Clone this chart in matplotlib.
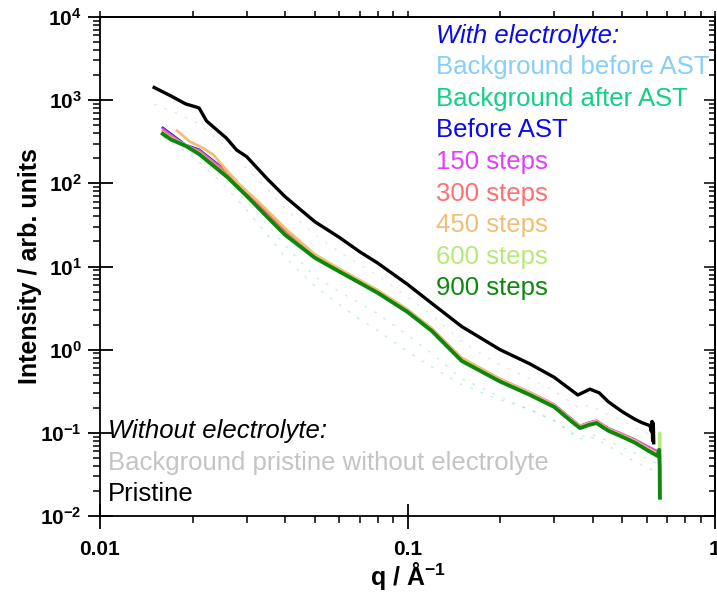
import matplotlib
matplotlib.use("Agg")
import matplotlib.pyplot as plt
from matplotlib.ticker import LogLocator, NullFormatter, FixedLocator, FixedFormatter

plt.rcParams['font.family'] = ['Liberation Sans', 'DejaVu Sans']
plt.rcParams['mathtext.fontset'] = 'custom'
plt.rcParams['mathtext.rm'] = 'Liberation Sans'
plt.rcParams['mathtext.bf'] = 'Liberation Sans:bold'
plt.rcParams['mathtext.it'] = 'Liberation Sans:italic'

# ---------------- data ----------------
q_main = [0.0160, 0.017, 0.019, 0.021, 0.023, 0.026, 0.030, 0.035, 0.040, 0.050,
          0.060, 0.070, 0.080, 0.100, 0.120, 0.150, 0.200, 0.250, 0.300, 0.340,
          0.364, 0.390, 0.412, 0.430, 0.450, 0.500, 0.550, 0.600, 0.650]

I_before = [467, 395, 290, 255, 196, 137, 76.7, 44, 26.8, 13.5,
            9.2, 6.7, 5.1, 3.0, 1.78, 0.79, 0.44, 0.305, 0.218, 0.148,
            0.121, 0.133, 0.139, 0.126, 0.113, 0.096, 0.082, 0.068, 0.058]
I_150 = [455, 385, 286, 250, 192, 134, 75, 43, 26.2, 13.3,
         9.1, 6.65, 5.05, 2.98, 1.77, 0.785, 0.445, 0.308, 0.22, 0.15,
         0.122, 0.134, 0.141, 0.127, 0.114, 0.097, 0.083, 0.070, 0.060]
I_300 = [430, 372, 280, 245, 188, 131, 74, 42.5, 26, 13.2,
         9.05, 6.6, 5.0, 2.95, 1.75, 0.78, 0.44, 0.303, 0.216, 0.147,
         0.120, 0.132, 0.138, 0.125, 0.112, 0.095, 0.081, 0.067, 0.057]
I_600 = [410, 350, 290, 232, 176, 121, 72, 40, 24.5, 12.9,
         8.8, 6.45, 4.9, 2.9, 1.71, 0.75, 0.42, 0.29, 0.208, 0.141,
         0.116, 0.127, 0.133, 0.120, 0.108, 0.091, 0.077, 0.064, 0.055]
I_900 = [393, 337, 282, 225, 171, 118, 70.6, 39.4, 24, 12.7,
         8.7, 6.35, 4.82, 2.84, 1.68, 0.733, 0.414, 0.286, 0.205, 0.139,
         0.114, 0.125, 0.131, 0.118, 0.106, 0.0895, 0.0759, 0.0625, 0.0528]

q_450 = [0.0178, 0.0196, 0.0217, 0.0234, 0.026, 0.0285, 0.0331, 0.0405, 0.050,
         0.060, 0.070, 0.080, 0.100, 0.120, 0.150, 0.200, 0.250, 0.300, 0.340,
         0.364, 0.390, 0.412, 0.430, 0.450, 0.500, 0.550, 0.600, 0.650]
I_450 = [430, 317, 264, 219, 139, 96, 57.7, 27.5, 14.0,
         9.4, 6.85, 5.2, 3.05, 1.8, 0.80, 0.445, 0.305, 0.216, 0.146,
         0.120, 0.131, 0.137, 0.124, 0.111, 0.094, 0.080, 0.066, 0.056]

# end-of-range noise
q_600_end = [0.650, 0.660, 0.662, 0.664]
I_600_end = [0.055, 0.060, 0.100, 0.050]
q_900_end = [0.650, 0.658, 0.661, 0.662]
I_900_end = [0.0528, 0.0625, 0.040, 0.0166]

q_pristine = [0.0150, 0.017, 0.019, 0.0205, 0.021, 0.0222, 0.0258, 0.0278, 0.030,
              0.035, 0.040, 0.050, 0.060, 0.070, 0.080, 0.100, 0.120, 0.150, 0.200,
              0.250, 0.300, 0.358, 0.392, 0.420, 0.450, 0.500, 0.550, 0.580,
              0.600, 0.615, 0.620, 0.624, 0.627, 0.630, 0.632]
I_pristine = [1420, 1125, 900, 830, 806, 562, 348, 252, 209,
              113, 69, 34.5, 22.4, 15.0, 11.0, 6.1, 3.6, 1.9, 1.0,
              0.675, 0.465, 0.285, 0.335, 0.303, 0.236, 0.179, 0.145, 0.132,
              0.126, 0.122, 0.105, 0.137, 0.080, 0.130, 0.076]

q_bg = [0.016, 0.019, 0.021, 0.025, 0.030, 0.035, 0.040, 0.050, 0.060, 0.070,
        0.080, 0.100, 0.120, 0.150, 0.200, 0.250, 0.300, 0.360, 0.400, 0.450,
        0.500, 0.550, 0.600, 0.650]
I_bg_before = [360, 240, 180, 100, 48, 24, 13, 5.8, 3.5, 2.3,
               1.7, 0.95, 0.62, 0.38, 0.25, 0.19, 0.14, 0.085, 0.088, 0.07,
               0.055, 0.045, 0.038, 0.034]
I_bg_after = [380, 260, 200, 120, 60, 32, 18, 7.5, 5.0, 3.6,
              2.7, 1.5, 0.9, 0.45, 0.27, 0.19, 0.14, 0.09, 0.095, 0.08,
              0.067, 0.057, 0.049, 0.043]

q_bg_pr = [0.015, 0.018, 0.021, 0.025, 0.030, 0.035, 0.040, 0.050, 0.060, 0.070,
           0.080, 0.100, 0.120, 0.150, 0.200, 0.250, 0.300, 0.360, 0.390, 0.450,
           0.500, 0.550, 0.600, 0.630]
I_bg_pr = [900, 680, 520, 300, 150, 85, 50, 24, 15, 10.5,
           7.8, 4.3, 2.6, 1.25, 0.65, 0.45, 0.32, 0.20, 0.215, 0.165,
           0.14, 0.115, 0.10, 0.09]

x_ticks = [0.01, 0.1, 1]
x_ticklabels = ['0.01', '0.1', '1']
y_ticks = [1e-2, 1e-1, 1e0, 1e1, 1e2, 1e3, 1e4]
y_ticklabels = [r'$\mathbf{10^{-2}}$', r'$\mathbf{10^{-1}}$', r'$\mathbf{10^{0}}$',
                r'$\mathbf{10^{1}}$', r'$\mathbf{10^{2}}$', r'$\mathbf{10^{3}}$',
                r'$\mathbf{10^{4}}$']

legend_top = [("With electrolyte:", '#0a0af0', 'italic'),
              ("Background before AST", '#87cefa', 'normal'),
              ("Background after AST", '#14cf86', 'normal'),
              ("Before AST", '#0a0af0', 'normal'),
              ("150 steps", '#e040fb', 'normal'),
              ("300 steps", '#ff7070', 'normal'),
              ("450 steps", '#efc072', 'normal'),
              ("600 steps", '#b6ea78', 'normal'),
              ("900 steps", '#0f870f', 'normal')]
legend_bottom = [("Without electrolyte:", '#000000', 'italic'),
                 ("Background pristine without electrolyte", '#c4c4c4', 'normal'),
                 ("Pristine", '#000000', 'normal')]

# ---------------- figure ----------------
W, H = 717, 594
fig = plt.figure(figsize=(W / 100, H / 100), dpi=100)
L, R, T, B = 100, 715, 17, 516
ax = fig.add_axes([L / W, (H - B) / H, (R - L) / W, (B - T) / H])
ax.set_xscale('log')
ax.set_yscale('log')
ax.set_xlim(0.01, 1)
ax.set_ylim(1e-2, 1e4)

dash = (0, (2, 6))
ax.plot(q_bg_pr, I_bg_pr, color='#c4c4c4', lw=1.0, ls=dash, alpha=0.4)
ax.plot(q_bg, I_bg_before, color='#87cefa', lw=1.0, ls=dash, alpha=0.45)
ax.plot(q_bg, I_bg_after, color='#14cf86', lw=1.0, ls=dash, alpha=0.25)

ax.plot(q_pristine, I_pristine, color='black', lw=2.4)
ax.plot(q_main, I_before, color='#0a0af0', lw=1.6)
ax.plot(q_main, I_150, color='#e040fb', lw=1.6)
ax.plot(q_main, I_300, color='#ff7070', lw=1.6)
ax.plot(q_450, I_450, color='#efc072', lw=2.0)
ax.plot(q_main + q_600_end[1:], I_600 + I_600_end[1:], color='#b6ea78', lw=2.0)
ax.plot(q_main + q_900_end[1:], I_900 + I_900_end[1:], color='#0f870f', lw=2.8)

# ticks
ax.xaxis.set_major_locator(FixedLocator(x_ticks))
ax.xaxis.set_major_formatter(FixedFormatter(x_ticklabels))
ax.xaxis.set_minor_locator(LogLocator(base=10, subs=range(2, 10), numticks=20))
ax.xaxis.set_minor_formatter(NullFormatter())
ax.yaxis.set_major_locator(FixedLocator(y_ticks))
ax.yaxis.set_major_formatter(FixedFormatter(y_ticklabels))
ax.yaxis.set_minor_locator(LogLocator(base=10, subs=range(2, 10), numticks=20))
ax.yaxis.set_minor_formatter(NullFormatter())
ax.tick_params(which='major', direction='inout', length=18, width=1.3, labelsize=15)
ax.tick_params(axis='x', which='major', pad=8)
ax.tick_params(axis='y', which='major', pad=4)
ax.tick_params(which='minor', direction='out', length=5, width=1.1)
for lab in ax.get_xticklabels():
    lab.set_fontweight('bold')
for s in ax.spines.values():
    s.set_linewidth(1.3)

top = ax.secondary_xaxis('top')
top.xaxis.set_major_locator(FixedLocator(x_ticks))
top.xaxis.set_minor_locator(LogLocator(base=10, subs=range(2, 10), numticks=20))
top.xaxis.set_major_formatter(NullFormatter())
top.xaxis.set_minor_formatter(NullFormatter())
top.tick_params(which='both', direction='out', length=4, width=1.1)
top.spines['top'].set_linewidth(1.3)

right = ax.secondary_yaxis('right')
right.yaxis.set_major_locator(FixedLocator(y_ticks))
right.yaxis.set_minor_locator(LogLocator(base=10, subs=range(2, 10), numticks=20))
right.yaxis.set_major_formatter(NullFormatter())
right.yaxis.set_minor_formatter(NullFormatter())
right.tick_params(which='major', direction='in', length=8, width=1.1)
right.tick_params(which='minor', direction='in', length=4, width=1.1)
right.spines['right'].set_linewidth(1.3)

ax.set_xlabel(r'q / Å$^{\mathbf{-1}}$', fontsize=18, fontweight='bold')
ax.set_ylabel('Intensity / arb. units', fontsize=18, fontweight='bold')
ax.xaxis.set_label_coords(0.5, (B - 560) / (B - T))
ax.yaxis.set_label_coords((42 - L) / (R - L), 0.5)

# text legends
for i, (txt, col, sty) in enumerate(legend_top):
    base = 42.5 + 31.6 * i
    ax.text((436 - L) / (R - L), (B - base) / (B - T), txt, color=col,
            fontsize=18.5, style=sty, transform=ax.transAxes, va='baseline', ha='left')
for i, (txt, col, sty) in enumerate(legend_bottom):
    base = 438.3 + 31.4 * i
    ax.text((107.5 - L) / (R - L), (B - base) / (B - T), txt, color=col,
            fontsize=18.5, style=sty, transform=ax.transAxes, va='baseline', ha='left')

fig.savefig('out.png', dpi=100)
